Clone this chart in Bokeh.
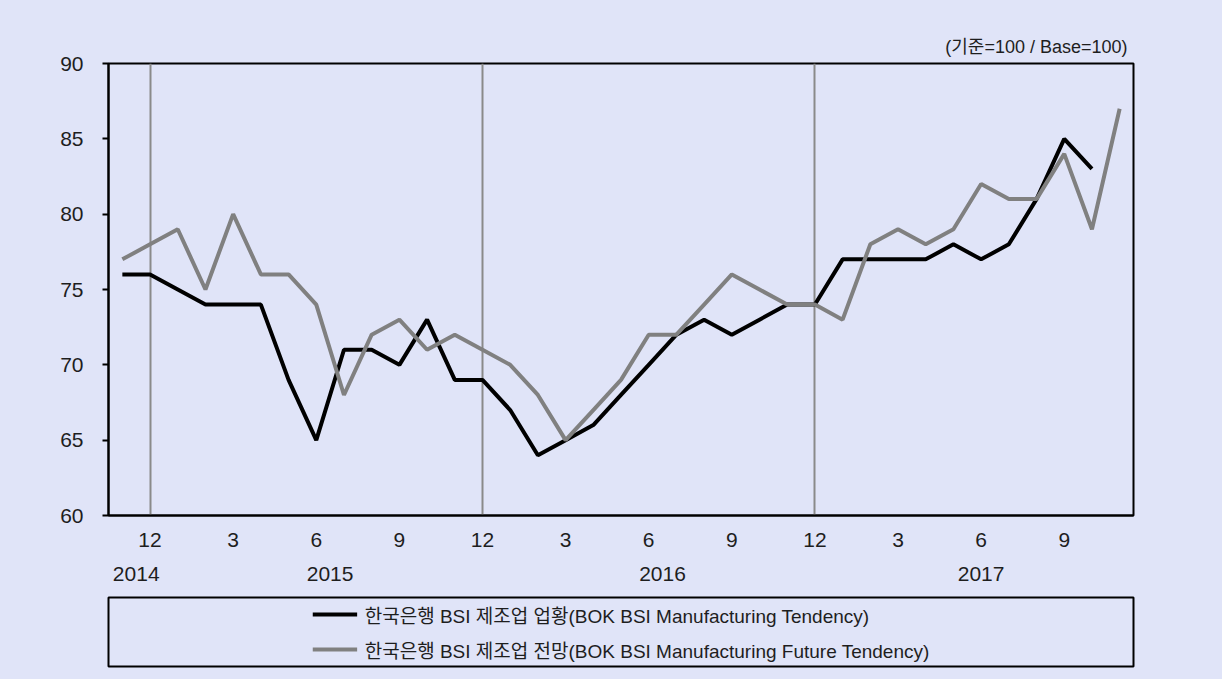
from bokeh.plotting import figure
from bokeh.layouts import column
from bokeh.models import Range1d, FixedTicker, LinearAxis, Legend, LegendItem, ColumnDataSource
from bokeh.embed import file_html
from bokeh.resources import INLINE

# ---- data ----
periods = ["2014-11", "2014-12",
           "2015-01", "2015-02", "2015-03", "2015-04", "2015-05", "2015-06",
           "2015-07", "2015-08", "2015-09", "2015-10", "2015-11", "2015-12",
           "2016-01", "2016-02", "2016-03", "2016-04", "2016-05", "2016-06",
           "2016-07", "2016-08", "2016-09", "2016-10", "2016-11", "2016-12",
           "2017-01", "2017-02", "2017-03", "2017-04", "2017-05", "2017-06",
           "2017-07", "2017-08", "2017-09", "2017-10", "2017-11"]
tendency = [76, 76,
            75, 74, 74, 74, 69, 65, 71, 71, 70, 73, 69, 69,
            67, 64, 65, 66, 68, 70, 72, 73, 72, 73, 74, 74,
            77, 77, 77, 77, 78, 77, 78, 81, 85, 83, float("nan")]
future = [77, 78,
          79, 75, 80, 76, 76, 74, 68, 72, 73, 71, 72, 71,
          70, 68, 65, 67, 69, 72, 72, 74, 76, 75, 74, 74,
          73, 78, 79, 78, 79, 82, 81, 81, 84, 79, 87]
tick_months = ["12", "3", "6", "9"]
years = ["2014", "2015", "2016", "2017"]
y_ticks = [60, 65, 70, 75, 80, 85, 90]
name_tendency = "한국은행 BSI 제조업 업황(BOK BSI Manufacturing Tendency)"
name_future = "한국은행 BSI 제조업 전망(BOK BSI Manufacturing Future Tendency)"
unit_note = "(기준=100 / Base=100)"

BG = "#E0E4F8"
LATIN = "Liberation Sans"
MIXED = "Liberation Sans, Noto Sans CJK KR"
TXT = "#1e1e1e"
W = 1222

x = list(range(len(periods)))
months = [p.split("-")[1].lstrip("0") for p in periods]
yrs = [p.split("-")[0] for p in periods]
src = ColumnDataSource(dict(x=x, tendency=tendency, future=future))

p = figure(width=W, height=595, output_backend="svg", toolbar_location=None,
           x_range=Range1d(-0.5, len(periods) - 0.5), y_range=Range1d(60, 90),
           min_border_left=108, min_border_right=W - 1133, min_border_top=63, min_border_bottom=80,
           background_fill_color=BG, border_fill_color=BG)

p.outline_line_color = "black"
p.outline_line_width = 2

# title note
p.title.text = unit_note
p.title.align = "right"
p.title.text_font = MIXED
p.title.text_font_size = "18px"
p.title.text_font_style = "normal"
p.title.text_color = TXT
p.title.offset = 6
p.title.standoff = 13

# y axis
p.yaxis.ticker = FixedTicker(ticks=y_ticks)
p.yaxis.minor_tick_line_color = None
p.yaxis.major_tick_out = 6
p.yaxis.major_tick_in = 0
p.yaxis.major_tick_line_color = "black"
p.yaxis.major_tick_line_width = 2
p.yaxis.axis_line_color = "black"
p.yaxis.axis_line_width = 2
p.yaxis.major_label_text_font = LATIN
p.yaxis.major_label_text_font_size = "21px"
p.yaxis.major_label_text_color = TXT
p.yaxis.major_label_standoff = 19

# x axis (months)
mt = [i for i, m in enumerate(months) if m in tick_months]
p.xaxis.ticker = FixedTicker(ticks=mt)
p.xaxis.major_label_overrides = {i: months[i] for i in mt}
p.xaxis.minor_tick_line_color = None
p.xaxis.major_tick_line_color = None
p.xaxis.axis_line_color = "black"
p.xaxis.axis_line_width = 2
p.xaxis.major_label_text_font = LATIN
p.xaxis.major_label_text_font_size = "21px"
p.xaxis.major_label_text_color = TXT
p.xaxis.major_label_standoff = 11

# x axis (years)
ypos = []
for yv in years:
    idx = [i for i, v in enumerate(yrs) if v == yv]
    ypos.append((idx[0] + idx[-1]) / 2)
yax = LinearAxis(ticker=FixedTicker(ticks=ypos),
                 major_label_overrides={pos: lab for pos, lab in zip(ypos, years)})
yax.axis_line_color = None
yax.major_tick_line_color = None
yax.minor_tick_line_color = None
yax.major_label_text_font = LATIN
yax.major_label_text_font_size = "21px"
yax.major_label_text_color = TXT
yax.major_label_standoff = 11
p.add_layout(yax, "below")

# grids
p.ygrid.grid_line_color = None
dec = [i for i, m in enumerate(months) if m == "12"]
p.xgrid.ticker = FixedTicker(ticks=dec)
p.xgrid.grid_line_color = "#8a8a8a"
p.xgrid.grid_line_width = 2

# lines
p.line("x", "tendency", source=src, line_color="black", line_width=4)
p.line("x", "future", source=src, line_color="#808080", line_width=4)

# ---- legend panel (its frame is the legend box) ----
p2 = figure(width=W, height=84, output_backend="svg", toolbar_location=None,
            x_range=Range1d(-0.5, len(periods) - 0.5), y_range=Range1d(60, 90),
            x_axis_location=None, y_axis_location=None,
            min_border_left=108, min_border_right=W - 1136, min_border_top=2, min_border_bottom=13,
            background_fill_color=BG, border_fill_color=BG)
p2.xgrid.visible = False
p2.ygrid.visible = False
p2.outline_line_color = "black"
p2.outline_line_width = 2
l1 = p2.line("x", "tendency", source=src, line_color="black", line_width=4, visible=False)
l2 = p2.line("x", "future", source=src, line_color="#808080", line_width=4, visible=False)

leg = Legend(items=[LegendItem(label=name_tendency, renderers=[l1]),
                    LegendItem(label=name_future, renderers=[l2])],
             location="center", padding=0, margin=0, spacing=8,
             glyph_width=45, glyph_height=24, label_height=24, label_standoff=8,
             label_text_font=MIXED, label_text_font_size="19px", label_text_color=TXT,
             border_line_color=None, background_fill_alpha=0,
             inactive_fill_alpha=0)
p2.add_layout(leg, "center")

page = column(p, p2, spacing=0, styles={"background-color": BG})
open("out.html", "w").write(file_html(page, INLINE))
